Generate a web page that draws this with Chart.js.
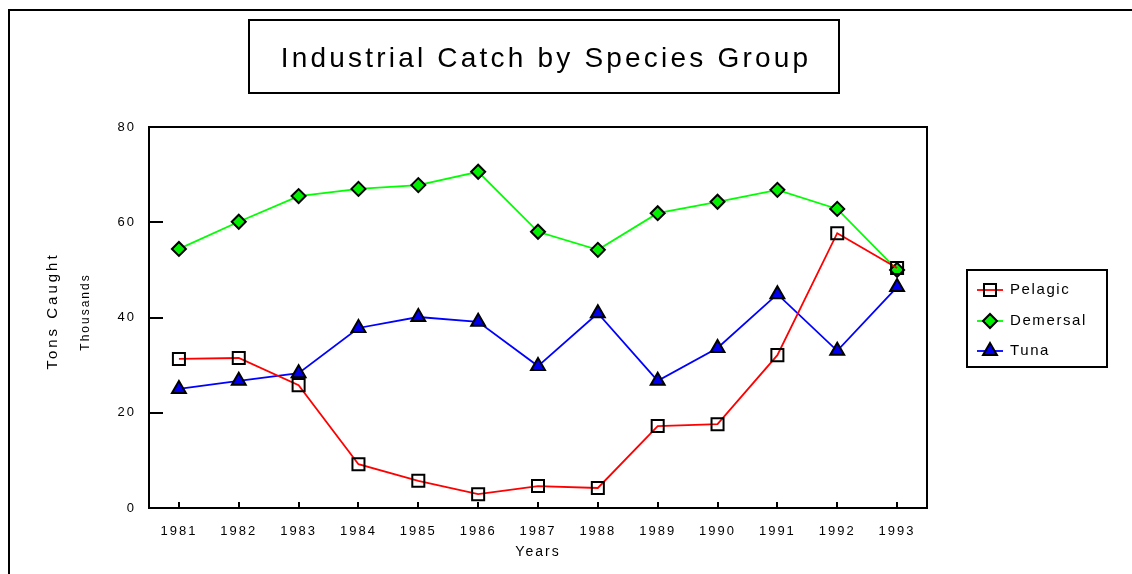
<!DOCTYPE html>
<html>
<head>
<meta charset="utf-8">
<script src="https://cdn.jsdelivr.net/npm/chart.js@4.4.1/dist/chart.umd.min.js"></script>
<style>
  html, body { margin: 0; padding: 0; background: #fff; }
  canvas { display: block; }
</style>
</head>
<body>
<canvas id="catchChart" width="1132" height="574"></canvas>
<script>
// Industrial catch (thousands of tons)
const years = ['1981', '1982', '1983', '1984', '1985', '1986', '1987', '1988', '1989', '1990', '1991', '1992', '1993'];
const pelagic = [31.3, 31.5, 25.8, 9.2, 5.7, 2.9, 4.6, 4.2, 17.2, 17.6, 32.1, 57.7, 50.4];
const demersal = [54.4, 60.1, 65.5, 67.0, 67.8, 70.6, 58.0, 54.2, 61.9, 64.3, 66.8, 62.8, 50.0];
const tuna = [25.0, 26.7, 28.3, 37.8, 40.1, 39.1, 29.8, 40.9, 26.7, 33.6, 44.9, 33.0, 46.4];
const yTicks = [0, 20, 40, 60, 80];

const FONT = "'Liberation Sans', Arial, Helvetica, sans-serif";

// frame, boxed title, plot border, y titles and boxed legend
const framePlugin = {
    id: 'frame',
    beforeUpdate(chart) {
        chart.ctx.letterSpacing = '2px';
    },
    beforeDraw(chart) {
        const ctx = chart.ctx;
        ctx.letterSpacing = '2px';
        ctx.save();
        ctx.fillStyle = '#fff';
        ctx.fillRect(0, 0, chart.width, chart.height);
        ctx.strokeStyle = '#000';
        ctx.lineWidth = 2;
        ctx.beginPath();
        ctx.moveTo(9, chart.height);
        ctx.lineTo(9, 10);
        ctx.lineTo(chart.width, 10);
        ctx.stroke();
        ctx.restore();
    },
    beforeDatasetsDraw(chart) {
        const {ctx, chartArea: a} = chart;
        ctx.save();
        ctx.strokeStyle = '#000';
        ctx.lineWidth = 2;
        ctx.strokeRect(a.left, a.top, a.right - a.left, a.bottom - a.top);
        ctx.restore();
    },
    afterDraw(chart) {
        const ctx = chart.ctx;
        ctx.save();
        ctx.strokeStyle = '#000';
        ctx.fillStyle = '#000';
        ctx.lineWidth = 2;

        // title
        ctx.strokeRect(249, 20, 590, 73);
        ctx.font = '28px ' + FONT;
        ctx.letterSpacing = '3.2px';
        ctx.textAlign = 'center';
        ctx.textBaseline = 'middle';
        ctx.fillText('Industrial Catch by Species Group', 546, 59);

        // y axis titles
        ctx.save();
        ctx.translate(53, 311);
        ctx.rotate(-Math.PI / 2);
        ctx.font = '15px ' + FONT;
        ctx.letterSpacing = '3px';
        ctx.fillText('Tons Caught', 0, 0);
        ctx.restore();
        ctx.save();
        ctx.translate(86, 312);
        ctx.rotate(-Math.PI / 2);
        ctx.font = '12px ' + FONT;
        ctx.letterSpacing = '2px';
        ctx.fillText('Thousands', 0, 0);
        ctx.restore();

        // legend
        ctx.lineWidth = 2;
        ctx.strokeStyle = '#000';
        ctx.strokeRect(967, 270, 140, 97);
        const rows = [290, 321, 351];
        ctx.font = '15px ' + FONT;
        ctx.letterSpacing = '1.6px';
        ctx.textAlign = 'left';
        chart.data.datasets.forEach((ds, i) => {
            const y = rows[i];
            ctx.strokeStyle = ds.borderColor;
            ctx.lineWidth = ds.borderWidth;
            ctx.beginPath();
            ctx.moveTo(977, y);
            ctx.lineTo(1003, y);
            ctx.stroke();
            ctx.fillStyle = ds.pointBackgroundColor;
            ctx.strokeStyle = ds.pointBorderColor;
            ctx.lineWidth = ds.pointBorderWidth;
            Chart.helpers.drawPoint(ctx, {
                pointStyle: ds.pointStyle,
                radius: ds.pointRadius,
                borderWidth: ds.pointBorderWidth,
                rotation: 0
            }, 990, y);
            ctx.fillStyle = '#000';
            ctx.fillText(ds.label, 1010, y);
        });
        ctx.restore();
    }
};

const ctx = document.getElementById('catchChart').getContext('2d');
const catchChart = new Chart(ctx, {
    type: 'line',
    data: {
        labels: years,
        datasets: [{
            label: 'Pelagic',
            data: pelagic,
            borderColor: '#ff0000',
            borderWidth: 1.8,
            pointStyle: 'rect',
            pointRadius: 8.5,
            pointBackgroundColor: 'rgba(0,0,0,0)',
            pointBorderColor: '#000',
            pointBorderWidth: 2,
        }, {
            label: 'Demersal',
            data: demersal,
            borderColor: '#00ff00',
            borderWidth: 1.8,
            pointStyle: 'rectRot',
            pointRadius: 7,
            pointBackgroundColor: '#00f000',
            pointBorderColor: '#000',
            pointBorderWidth: 2,
        }, {
            label: 'Tuna',
            data: tuna,
            borderColor: '#0000ff',
            borderWidth: 1.8,
            pointStyle: 'triangle',
            pointRadius: 8,
            pointBackgroundColor: '#0000ee',
            pointBorderColor: '#000',
            pointBorderWidth: 2,
        }]
    },
    options: {
        responsive: false,
        animation: false,
        events: [],
        layout: {
            padding: {top: 127, right: 205, left: 0, bottom: 0}
        },
        scales: {
            x: {
                offset: true,
                afterFit: s => { s.height = 66; },
                grid: {
                    drawOnChartArea: false,
                    tickLength: -6,
                    color: '#000',
                    lineWidth: 2,
                    offset: false
                },
                border: {display: false},
                ticks: {
                    color: '#000',
                    font: {family: FONT, size: 13},
                    padding: 22,
                    maxRotation: 0,
                    autoSkip: false
                },
                title: {
                    display: true,
                    text: 'Years',
                    color: '#000',
                    font: {family: FONT, size: 14},
                    padding: {top: 0, bottom: 13}
                }
            },
            y: {
                min: 0,
                max: 80,
                afterFit: s => { s.width = 149; },
                afterBuildTicks: s => { s.ticks = yTicks.map(v => ({value: v})); },
                grid: {
                    drawOnChartArea: false,
                    tickLength: -14,
                    color: '#000',
                    lineWidth: 2
                },
                border: {display: false},
                ticks: {
                    color: '#000',
                    font: {family: FONT, size: 13},
                    padding: 27
                }
            }
        },
        plugins: {
            legend: {display: false},
            title: {display: false},
            tooltip: {enabled: false}
        }
    },
    plugins: [framePlugin]
});
</script>
</body>
</html>
